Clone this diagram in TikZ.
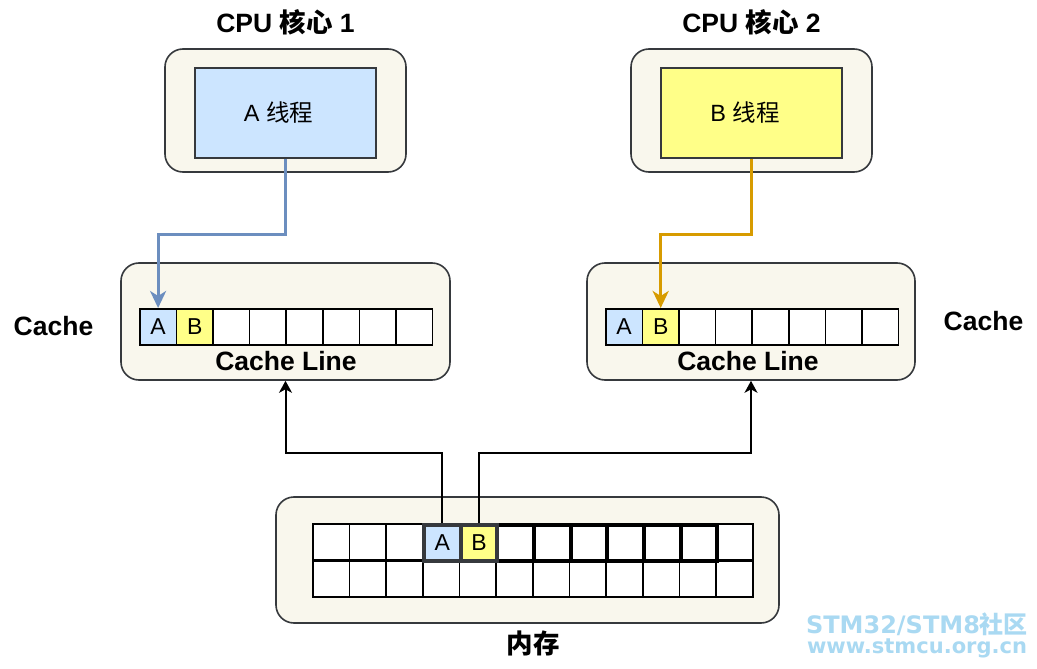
\documentclass[tikz,border=0pt]{standalone}
\usepackage{fontspec}
\setmainfont{Liberation Sans}
\newfontfamily\cjk{Noto Sans CJK SC}
\newfontfamily\wmfont{DejaVu Sans}
\usetikzlibrary{arrows.meta}
\definecolor{boxfill}{HTML}{F9F7ED}
\definecolor{boxline}{HTML}{36393D}
\definecolor{ablue}{HTML}{CCE5FF}
\definecolor{byellow}{HTML}{FFFF88}
\definecolor{bline}{HTML}{6C8EBF}
\definecolor{oline}{HTML}{D79B00}
\definecolor{wmcol}{HTML}{A9D9F2}
\tikzset{
  outerbox/.style={draw=boxline, fill=boxfill, rounded corners=18pt, line width=1.6pt, inner sep=0pt},
  threadbox/.style={draw=boxline, line width=1.6pt, minimum width=181pt, minimum height=90pt, inner sep=0pt},
  threadtext/.style={font=\fontsize{23.5}{27}\selectfont, inner sep=0pt},
  cell/.style={draw=black, fill=white, line width=1.6pt, minimum width=36.6pt, minimum height=36pt, inner sep=0pt, anchor=north west, font=\fontsize{23}{27}\selectfont},
  thickcell/.style={cell, line width=4pt},
  boldlabel/.style={font=\bfseries\fontsize{26.5}{30}\selectfont, inner sep=0pt},
  conn/.style={line width=2pt, -{Stealth[length=12pt,width=13pt,inset=3.5pt]}},
  thconn/.style={line width=2.8pt, -{Stealth[length=17pt,width=16pt,inset=5pt]}},
}
\begin{document}
\begin{tikzpicture}[x=1pt,y=-1pt]
\useasboundingbox (0,0) rectangle (1037,669);
\fill[white] (0,0) rectangle (1037,669);

% CPU titles
\node[boldlabel] (t1) at (285.5,22) {CPU {\cjk\bfseries 核心} 1};
\node[boldlabel] (t2) at (751.5,22) {CPU {\cjk\bfseries 核心} 2};

% CPU boxes
\node[outerbox, minimum width=241pt, minimum height=123pt] (cpu1) at (285.5,110.5) {};
\node[threadbox, fill=ablue] (th1) at (285.5,113) {};
\node[threadtext] (tt1) at (278.5,113) {A {\cjk 线程}};
\node[outerbox, minimum width=241pt, minimum height=123pt] (cpu2) at (751.5,110.5) {};
\node[threadbox, fill=byellow] (th2) at (751.5,113) {};
\node[threadtext] (tt2) at (745,113) {B {\cjk 线程}};

% Cache boxes
\node[outerbox, minimum width=329pt, minimum height=117pt] (cache1) at (285.5,321.5) {};
\node[outerbox, minimum width=328pt, minimum height=117pt] (cache2) at (751,321.5) {};
\foreach \i in {0,...,7} {
  \node[cell] (ca\i) at ({139+36.6*\i},308) {};
  \node[cell] (cb\i) at ({605+36.6*\i},308) {};
}
\node[cell, fill=ablue] (ca0) at (139,308) {A};
\node[cell, fill=byellow] (ca1) at (175.6,308) {B};
\node[cell, fill=ablue] (cb0) at (605,308) {A};
\node[cell, fill=byellow] (cb1) at (641.6,308) {B};
\node[boldlabel] (cl1) at (286,361) {Cache Line};
\node[boldlabel] (cl2) at (748,361) {Cache Line};
\node[boldlabel] (lab1) at (53.5,326) {Cache};
\node[boldlabel] (lab2) at (983.5,321) {Cache};

% Memory
\node[outerbox, minimum width=503pt, minimum height=126pt] (mem) at (527.5,560) {};
\foreach \i in {0,...,11} {
  \node[cell] (m1\i) at ({312+36.67*\i},523) {};
  \node[cell] (m2\i) at ({312+36.67*\i},560) {};
}
\foreach \i in {5,...,10} {
  \node[thickcell] (h\i) at ({312+36.67*\i},523) {};
}
\node[thickcell, draw=boxline, fill=ablue] (mA) at ({312+36.67*3},523) {A};
\node[thickcell, draw=boxline, fill=byellow] (mB) at ({312+36.67*4},523) {B};
\node[boldlabel] (memlab) at (533,643) {\cjk\bfseries 内存};

% Connectors
\draw[thconn, bline] (th1.south) -- ++(0,76) -| (ca0.north);
\draw[thconn, oline] (th2.south) -- ++(0,76) -| (cb1.north);
\draw[conn] (mA.north) -- ++(0,-70) -| (cache1.south);
\draw[conn] (mB.north) -- ++(0,-70) -| (cache2.south);

% Watermark
\node[text=wmcol, font=\wmfont\bfseries\fontsize{24}{27}\selectfont, inner sep=0pt] (wm1) at (917,624) {STM32/STM8{\cjk\bfseries 社区}};
\node[text=wmcol, font=\wmfont\bfseries\fontsize{21}{24}\selectfont, inner sep=0pt] (wm2) at (917,648) {www.stmcu.org.cn};
\end{tikzpicture}
\end{document}
